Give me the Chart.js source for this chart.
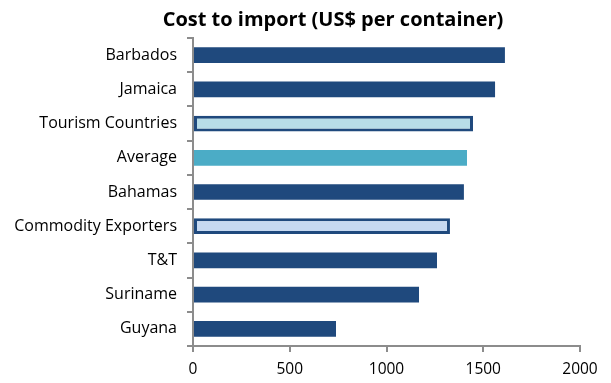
<!DOCTYPE html>
<html>
<head>
<meta charset="utf-8">
<script src="https://cdn.jsdelivr.net/npm/chart.js@4/dist/chart.umd.min.js"></script>
<style>
    html, body { margin: 0; padding: 0; background: #fff; }
    #wrap { width: 611px; height: 383px; }
</style>
</head>
<body>
<div id="wrap"><canvas id="importChart"></canvas></div>
<script>
// Chart data
const categories = ['Barbados', 'Jamaica', 'Tourism Countries', 'Average', 'Bahamas',
    'Commodity Exporters', 'T&T', 'Suriname', 'Guyana'];
const costs = [1612, 1561, 1447, 1416, 1400, 1328, 1261, 1168, 739];
const xTicks = [0, 500, 1000, 1500, 2000];

// Bar styling (kept apart from the values)
const navy = '#1F497D';
const fills = [navy, navy, '#B7DDE8', '#4BACC6', navy, '#C6D9F1', navy, navy, navy];
const borderWidths = [0, 0, 3, 0, 0, 3, 0, 0, 0];

const fontFamily = "'Open Sans', Lato, sans-serif";
const axisGray = '#8C8C8C';

// Title drawn over the chart, centered where the original sits
const titlePlugin = {
    id: 'sheetTitle',
    afterDraw(chart) {
        const ctx = chart.ctx;
        ctx.save();
        ctx.font = "bold 20px " + fontFamily;
        ctx.fillStyle = '#000';
        ctx.textAlign = 'center';
        ctx.textBaseline = 'middle';
        ctx.fillText('Cost to import (US$ per container)', 333, 20);
        ctx.restore();
    }
};

function initChart() {
    const ctx = document.getElementById('importChart');
    new Chart(ctx, {
        type: 'bar',
        data: {
            labels: categories,
            datasets: [{
                data: costs,
                backgroundColor: fills,
                borderColor: navy,
                borderWidth: borderWidths,
                borderSkipped: false,
                barPercentage: 0.46,
                categoryPercentage: 1
            }]
        },
        plugins: [titlePlugin],
        options: {
            indexAxis: 'y',
            responsive: true,
            maintainAspectRatio: false,
            animation: false,
            layout: { padding: { top: 38, right: 31, left: 0, bottom: 0 } },
            plugins: {
                legend: { display: false },
                tooltip: { enabled: false }
            },
            scales: {
                x: {
                    min: 0,
                    max: 2000,
                    afterBuildTicks(scale) {
                        scale.ticks = xTicks.map(v => ({ value: v }));
                    },
                    afterFit(scale) { scale.height = 37; },
                    grid: {
                        drawOnChartArea: false,
                        drawTicks: true,
                        tickLength: 6,
                        color: axisGray,
                        lineWidth: 2
                    },
                    border: { color: axisGray, width: 2 },
                    ticks: {
                        color: '#000',
                        font: { family: fontFamily, size: 15.5 },
                        padding: 8,
                        maxRotation: 0,
                        callback: v => String(v)
                    }
                },
                y: {
                    afterFit(scale) { scale.width = 193; },
                    grid: {
                        drawOnChartArea: false,
                        drawTicks: true,
                        tickLength: 6,
                        offset: true,
                        color: axisGray,
                        lineWidth: 2
                    },
                    border: { color: axisGray, width: 2 },
                    ticks: {
                        color: '#000',
                        font: { family: fontFamily, size: 16 },
                        padding: 10
                    }
                }
            }
        }
    });
}

window.addEventListener('load', initChart);
</script>
</body>
</html>
